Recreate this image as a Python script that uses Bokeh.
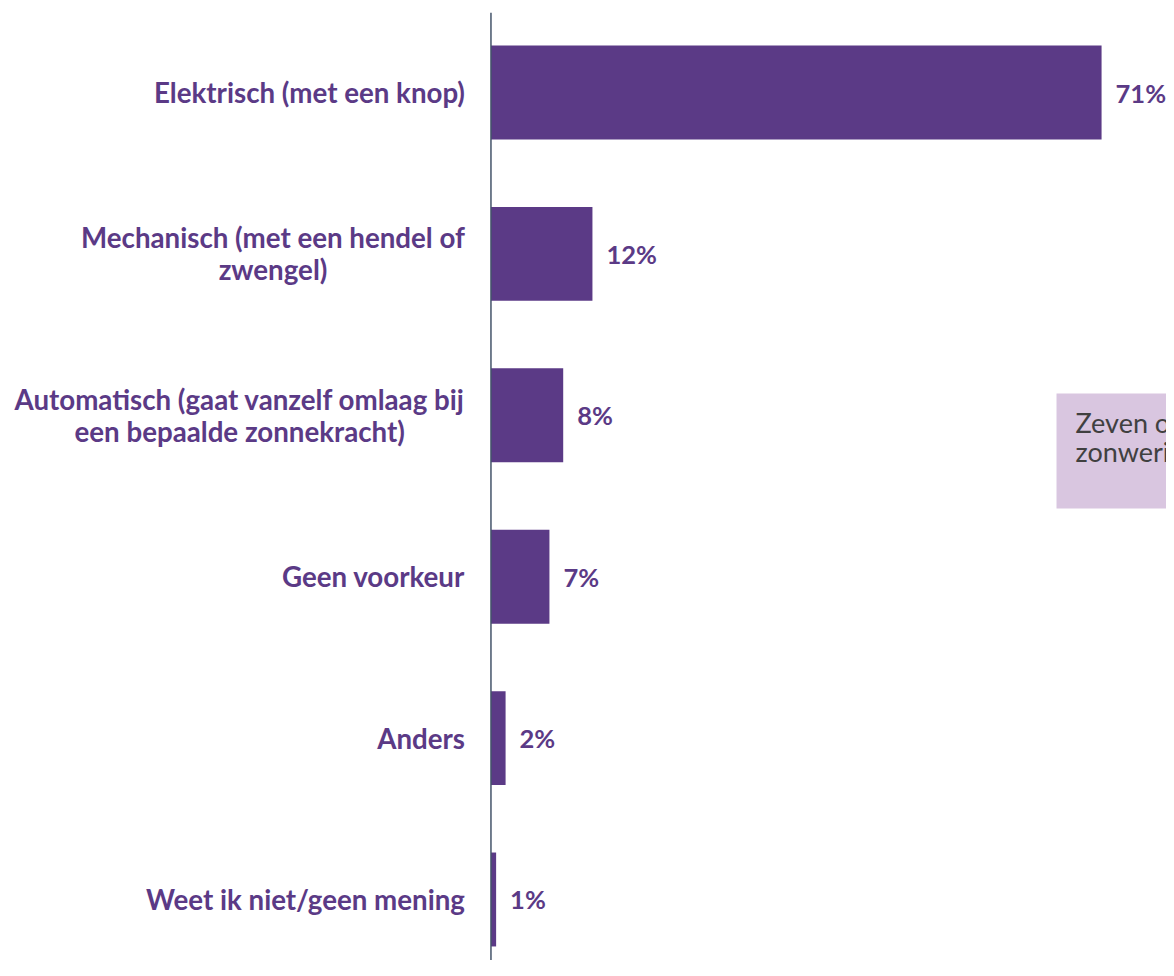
from bokeh.plotting import figure
from bokeh.models import Range1d, Span, BoxAnnotation, Label, ColumnDataSource
from bokeh.core.properties import value
from bokeh.embed import file_html
from bokeh.resources import INLINE

# ---- data ----
categories = [
    "Elektrisch (met een knop)",
    "Mechanisch (met een hendel of\nzwengel)",
    "Automatisch (gaat vanzelf omlaag bij\neen bepaalde zonnekracht)",
    "Geen voorkeur",
    "Anders",
    "Weet ik niet/geen mening",
]
values = [71.0, 11.8, 8.4, 6.8, 1.7, 0.6]
value_labels = [f"{round(v)}%" for v in values]
note_text = "Zeven op de tien kiezen voor elektrische\nzonwering met een knop"

# ---- style ----
PURPLE = "#5B3A86"
NOTE_FILL = "#D9C6E0"
NOTE_TEXT = "#404040"
AXIS_COLOR = "#44546A"
FONT = "Lato"

positions = list(range(len(categories)))
src = ColumnDataSource(dict(y=positions, v=values, cat=categories, lab=value_labels))

p = figure(
    width=1166, height=960,
    x_range=Range1d(-57.03, 78.55),
    y_range=Range1d(5.378, -0.4957),
    output_backend="svg", toolbar_location=None,
    x_axis_location=None, y_axis_location=None,
    min_border_left=0, min_border_right=0, min_border_top=12, min_border_bottom=0,
)
p.grid.visible = False
p.outline_line_color = None
p.background_fill_color = "white"
p.border_fill_color = "white"

p.hbar(y="y", left=0, right="v", height=0.582, source=src,
       fill_color=PURPLE, line_color=None)

p.add_layout(Span(location=0, dimension="height", line_color=AXIS_COLOR, line_width=1.5))

p.text(x=0, y="y", text="cat", source=src, x_offset=-26,
       anchor=value("center_right"), text_align="center", text_baseline="middle",
       text_font=value(FONT), text_font_style="bold", text_font_size="27.7px",
       text_line_height=0.975, text_color=PURPLE)

p.text(x="v", y="y", text="lab", source=src, x_offset=14,
       text_align="left", text_baseline="middle",
       text_font=value(FONT), text_font_style="bold", text_font_size="25.5px",
       text_color=PURPLE)

p.add_layout(BoxAnnotation(left=65.76, right=95, top=1.865, bottom=2.577,
                           fill_color=NOTE_FILL, fill_alpha=1.0, line_color=None))
p.add_layout(Label(x=67.97, y=2.134, text=note_text, text_baseline="middle",
                   text_align="left", text_font=FONT, text_font_size="27px",
                   text_line_height=0.87, text_color=NOTE_TEXT))

open("out.html", "w").write(file_html(p, INLINE))
